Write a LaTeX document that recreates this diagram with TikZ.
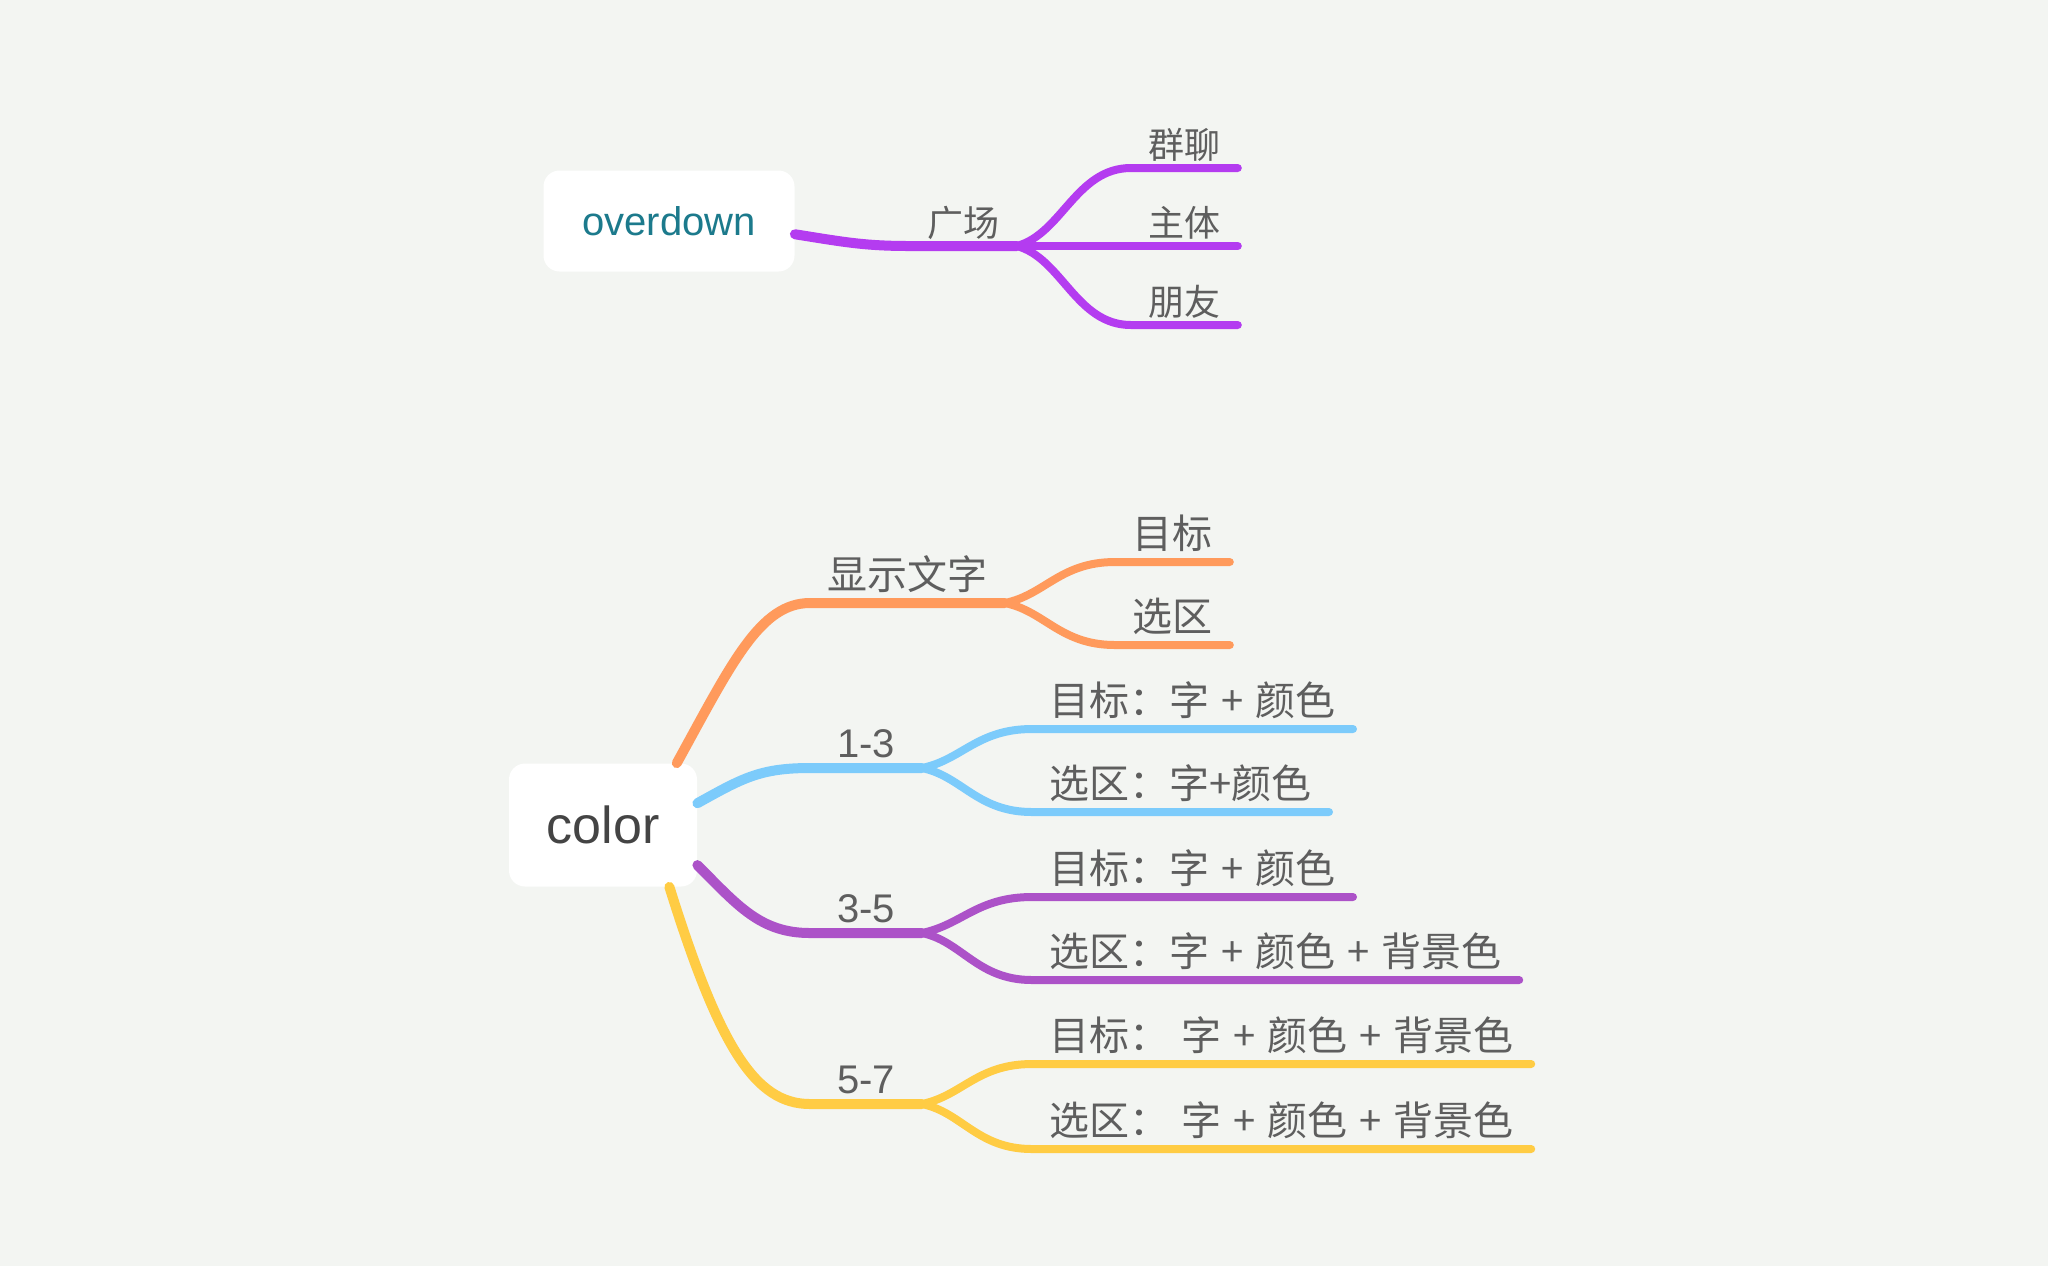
\documentclass[tikz,border=0pt]{standalone}
\usepackage{fontspec}
\setmainfont{Liberation Sans}
\newfontfamily\cjk{Noto Sans CJK SC}
\usetikzlibrary{calc}

\definecolor{bg}{HTML}{F3F5F2}
\definecolor{txt}{HTML}{5E5E5E}
\definecolor{teal}{HTML}{1C7A8C}
\definecolor{rootgray}{HTML}{444444}
\definecolor{violet}{HTML}{B43CF0}
\definecolor{peach}{HTML}{FF9A5C}
\definecolor{sky}{HTML}{7CCBFB}
\definecolor{plum}{HTML}{AC52C8}
\definecolor{amber}{HTML}{FFCC44}

\newcommand{\topicfont}{\cjk\fontsize{20}{24}\selectfont\spaceskip=6pt\relax}

\begin{document}
\begin{tikzpicture}[x=0.5pt, y=-0.5pt, line cap=round,
  root/.style={fill=white, rounded corners=8pt, inner sep=0pt},
  topic/.style={anchor=south west, inner xsep=8.5pt, inner ysep=5pt, text=txt, font=\topicfont},
  small/.style={topic, inner ysep=3pt, font=\cjk\fontsize{18}{22}\selectfont},
  rangebox/.style={topic, font=\fontsize{20}{24}\selectfont, minimum width=55.5pt},
  trunk/.style={line width=5pt},
  twig/.style={line width=4pt}]

\useasboundingbox[fill=bg] (0,0) rectangle (2048,1266);

% overdown map
\node[root, minimum width=125.5pt, minimum height=50.5pt, text=teal, font=\fontsize{20}{24}\selectfont] (over) at (669,221) {overdown};
\node[small] (gc) at (910,246) {广场};
\node[small] (ql) at (1131,168) {群聊};
\node[small] (zt) at (1131,246) {主体};
\node[small] (py) at (1131,325) {朋友};

\draw[violet, trunk] (over.-6) .. controls +(50,8) and +(-45,0) .. (gc.south west) -- (gc.south east);
\draw[violet, twig] (gc.south east) .. controls +(45,-12) and +(-55,0) .. (ql.south west) -- (ql.south east);
\draw[violet, twig] (gc.south east) -- (zt.south west) -- (zt.south east);
\draw[violet, twig] (gc.south east) .. controls +(45,12) and +(-55,0) .. (py.south west) -- (py.south east);

% color map
\node[root, minimum width=94pt, minimum height=61.5pt, text=rootgray, font=\fontsize{26}{30}\selectfont] (col) at (603,825) {color};

% orange branch
\node[topic] (sx) at (810,603) {显示文字};
\node[topic] (mb1) at (1115,562) {目标};
\node[topic] (xq1) at (1115,645) {选区};
\draw[peach, trunk] (col.40) .. controls +(55,-100) and +(-50,0) .. (sx.south west) -- (sx.south east);
\draw[peach, twig] (sx.south east) .. controls +(40,-8) and +(-55,0) .. (mb1.south west) -- (mb1.south east);
\draw[peach, twig] (sx.south east) .. controls +(40,8) and +(-55,0) .. (xq1.south west) -- (xq1.south east);

% blue branch
\node[rangebox] (r13) at (810,768) {1-3};
\node[topic] (mb2) at (1032,729) {目标：字 + 颜色};
\node[topic] (xq2) at (1032,812) {选区：字+颜色};
\draw[sky, trunk] (col.13) .. controls +(45,-25) and +(-50,0) .. (r13.south west) -- (r13.south east);
\draw[sky, twig] (r13.south east) .. controls +(40,-8) and +(-55,0) .. (mb2.south west) -- (mb2.south east);
\draw[sky, twig] (r13.south east) .. controls +(40,8) and +(-55,0) .. (xq2.south west) -- (xq2.south east);

% purple branch
\node[rangebox] (r35) at (810,933) {3-5};
\node[topic] (mb3) at (1032,897) {目标：字 + 颜色};
\node[topic] (xq3) at (1032,980) {选区：字 + 颜色 + 背景色};
\draw[plum, trunk] (col.-23) .. controls +(40,40) and +(-50,0) .. (r35.south west) -- (r35.south east);
\draw[plum, twig] (r35.south east) .. controls +(40,-8) and +(-55,0) .. (mb3.south west) -- (mb3.south east);
\draw[plum, twig] (r35.south east) .. controls +(40,8) and +(-55,0) .. (xq3.south west) -- (xq3.south east);

% yellow branch
\node[rangebox] (r57) at (810,1104) {5-7};
\node[topic] (mb4) at (1032,1064) {目标：~字 + 颜色 + 背景色};
\node[topic] (xq4) at (1032,1149) {选区：~字 + 颜色 + 背景色};
\draw[amber, trunk] (col.-43) .. controls +(50,160) and +(-55,0) .. (r57.south west) -- (r57.south east);
\draw[amber, twig] (r57.south east) .. controls +(40,-8) and +(-55,0) .. (mb4.south west) -- (mb4.south east);
\draw[amber, twig] (r57.south east) .. controls +(40,8) and +(-55,0) .. (xq4.south west) -- (xq4.south east);

\end{tikzpicture}
\end{document}
